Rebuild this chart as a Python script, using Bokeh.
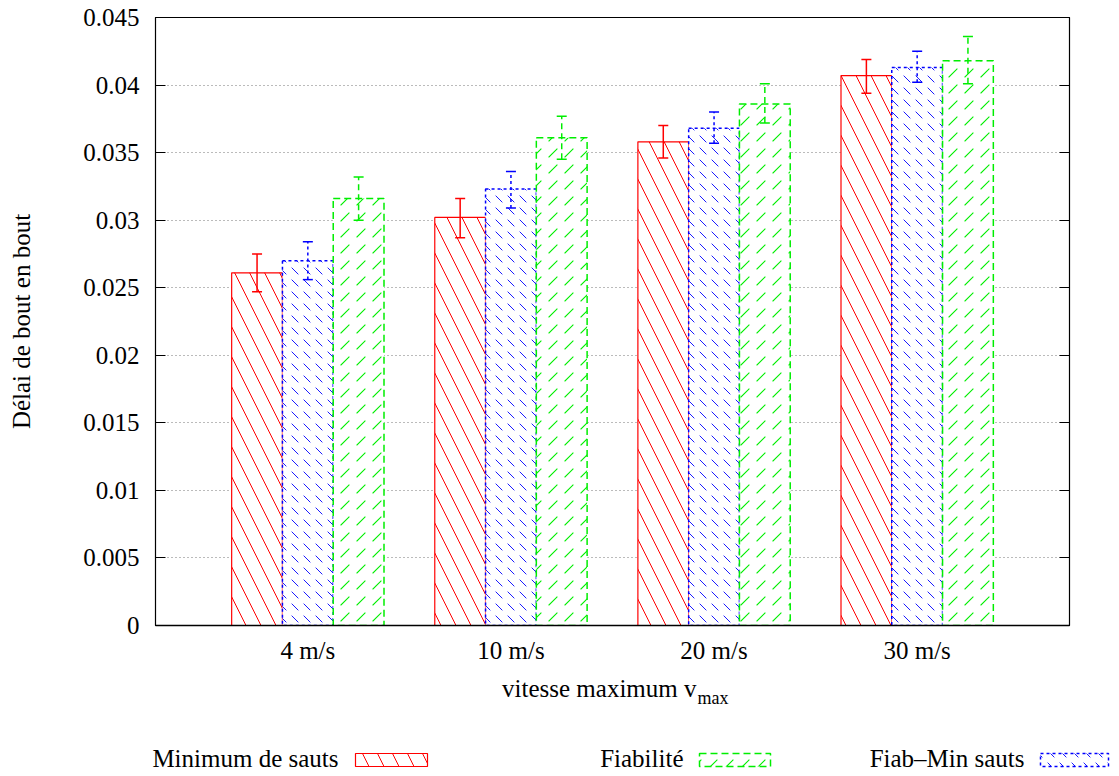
from bokeh.plotting import figure
from bokeh.models import (FactorRange, Range1d, FixedTicker, LinearAxis, Whisker,
                          TeeHead, ColumnDataSource, Label, BoxAnnotation,
                          CustomLabelingPolicy)
from bokeh.transform import dodge
from bokeh.embed import file_html
from bokeh.resources import INLINE

# ---------------- data ----------------
categories = ["4 m/s", "10 m/s", "20 m/s", "30 m/s"]

min_sauts = [0.0261, 0.0302, 0.0358, 0.0407]
min_sauts_lo = [0.0247, 0.0287, 0.0346, 0.0394]
min_sauts_hi = [0.0275, 0.0316, 0.0370, 0.0419]

fiab_min = [0.0270, 0.0323, 0.0368, 0.0413]
fiab_min_lo = [0.0256, 0.0309, 0.0357, 0.0402]
fiab_min_hi = [0.0284, 0.0336, 0.0380, 0.0425]

fiabilite = [0.0316, 0.0361, 0.0386, 0.0418]
fiabilite_lo = [0.0300, 0.0345, 0.0372, 0.0401]
fiabilite_hi = [0.0332, 0.0377, 0.0401, 0.0436]

y_ticks = [0, 0.005, 0.01, 0.015, 0.02, 0.025, 0.03, 0.035, 0.04, 0.045]
y_tick_labels = ["0", "0.005", "0.01", "0.015", "0.02", "0.025", "0.03", "0.035", "0.04", "0.045"]

series_names = ["Minimum de sauts", "Fiabilité", "Fiab\u2013Min sauts"]
x_label = "vitesse maximum v"
x_label_sub = "max"
y_label = "Délai de bout en bout"

FONT = "Liberation Serif"
FS = "25px"
RED, GREEN, BLUE = "#ff0000", "#00ee00", "#0000ff"

# hatch styles
RED_H = dict(hatch_pattern="left_diagonal_line", hatch_color=RED, hatch_scale=30, hatch_weight=1)
BLUE_H = dict(hatch_pattern="left_diagonal_dash", hatch_color=BLUE, hatch_scale=12, hatch_weight=0.9)
GREEN_H = dict(hatch_pattern="right_diagonal_dash", hatch_color=GREEN, hatch_scale=16, hatch_weight=1.1)

src = ColumnDataSource(dict(
    cat=categories,
    ms=min_sauts, ms_lo=min_sauts_lo, ms_hi=min_sauts_hi,
    fm=fiab_min, fm_lo=fiab_min_lo, fm_hi=fiab_min_hi,
    fi=fiabilite, fi_lo=fiabilite_lo, fi_hi=fiabilite_hi,
))

p = figure(width=1111, height=675,
           x_range=FactorRange(*categories, range_padding=0.125),
           y_range=Range1d(0, 0.045),
           toolbar_location=None, output_backend="svg",
           min_border_left=155, min_border_right=42,
           min_border_top=17, min_border_bottom=50)
p.outline_line_color = "black"
p.outline_line_width = 1.2

# grid
p.xgrid.visible = False
p.ygrid.ticker = FixedTicker(ticks=y_ticks)
p.ygrid.grid_line_color = "#777777"
p.ygrid.grid_line_dash = "1 3"
p.ygrid.grid_line_width = 1

# left axis
ya = p.yaxis[0]
ya.ticker = FixedTicker(ticks=y_ticks)
ya.major_label_overrides = {t: l for t, l in zip(y_ticks, y_tick_labels)}
ya.major_tick_in = 10
ya.major_tick_out = 0
ya.minor_tick_line_color = None
ya.major_label_standoff = 16
ya.major_label_text_font = FONT
ya.major_label_text_font_size = FS
ya.major_label_text_color = "black"
ya.axis_label = y_label
ya.axis_label_text_font = FONT
ya.axis_label_text_font_size = FS
ya.axis_label_text_font_style = "normal"
ya.axis_label_text_color = "black"
ya.axis_label_standoff = 45
ya.axis_line_color = "black"

# right axis (ticks only, no labels)
ra = LinearAxis(ticker=FixedTicker(ticks=y_ticks), major_tick_in=10, major_tick_out=0,
                minor_tick_line_color=None, axis_line_color="black",
                major_label_overrides={t: "" for t in y_ticks},
                major_label_policy=CustomLabelingPolicy(
                    code="for (const i of indices) indices.unset(i); return indices"),
                major_label_standoff=0)
p.add_layout(ra, "right")

# bottom axis
xa = p.xaxis[0]
xa.major_tick_line_color = None
xa.minor_tick_line_color = None
xa.major_label_text_font = FONT
xa.major_label_text_font_size = FS
xa.major_label_text_color = "black"
xa.major_label_standoff = 5
xa.axis_line_color = "black"
xa.axis_line_width = 1.5

# bars
p.vbar(x=dodge("cat", -0.25, range=p.x_range), top="ms", width=0.25, source=src,
       fill_color="white", line_color=RED, line_width=1.2, **RED_H)
p.vbar(x=dodge("cat", 0.0, range=p.x_range), top="fm", width=0.25, source=src,
       fill_color="white", line_color=BLUE, line_width=1.5, line_dash="3 3", **BLUE_H)
p.vbar(x=dodge("cat", 0.25, range=p.x_range), top="fi", width=0.25, source=src,
       fill_color="white", line_color=GREEN, line_width=1.5, line_dash="7 4", **GREEN_H)

# error bars
for off, lo, hi, col, dash in [(-0.25, "ms_lo", "ms_hi", RED, "solid"),
                               (0.0, "fm_lo", "fm_hi", BLUE, "3 3"),
                               (0.25, "fi_lo", "fi_hi", GREEN, "6 4")]:
    w = Whisker(source=src, base=dodge("cat", off, range=p.x_range), lower=lo, upper=hi,
                line_color=col, line_width=1.5, line_dash=dash, level="annotation",
                upper_head=TeeHead(size=10, line_color=col, line_width=1.5),
                lower_head=TeeHead(size=10, line_color=col, line_width=1.5))
    p.add_layout(w)

# ---------------- footer: axis label + legend ----------------
# a separate root; its data coordinates equal page pixels
f = figure(width=1111, height=100, x_range=Range1d(0, 1111), y_range=Range1d(775, 675),
           toolbar_location=None, output_backend="svg",
           x_axis_location=None, y_axis_location=None, min_border=0)
f.outline_line_color = None
f.grid.visible = False

f.add_layout(Label(x=696, y=688, text=x_label, text_font=FONT, text_font_size=FS,
                   text_align="right", text_baseline="middle", text_color="black"))
f.add_layout(Label(x=697, y=697, text=x_label_sub, text_font=FONT, text_font_size="18px",
                   text_align="left", text_baseline="middle", text_color="black"))

for name, xr in zip(series_names, [338, 683, 1024]):
    f.add_layout(Label(x=xr, y=758, text=name, text_font=FONT, text_font_size=FS,
                       text_align="right", text_baseline="middle", text_color="black"))

f.add_layout(BoxAnnotation(left=355, right=427, top=753, bottom=766, fill_color="white",
                           fill_alpha=1, line_color=RED, line_width=1.2, line_alpha=1,
                           level="annotation", **RED_H))
f.add_layout(BoxAnnotation(left=699, right=770, top=753, bottom=766, fill_color="white",
                           fill_alpha=1, line_color=GREEN, line_width=1.5, line_alpha=1,
                           line_dash="7 4", level="annotation", **GREEN_H))
f.add_layout(BoxAnnotation(left=1040, right=1108, top=753, bottom=766, fill_color="white",
                           fill_alpha=1, line_color=BLUE, line_width=1.5, line_alpha=1,
                           line_dash="3 3", level="annotation", **BLUE_H))

open("out.html", "w").write(file_html([p, f], INLINE))
